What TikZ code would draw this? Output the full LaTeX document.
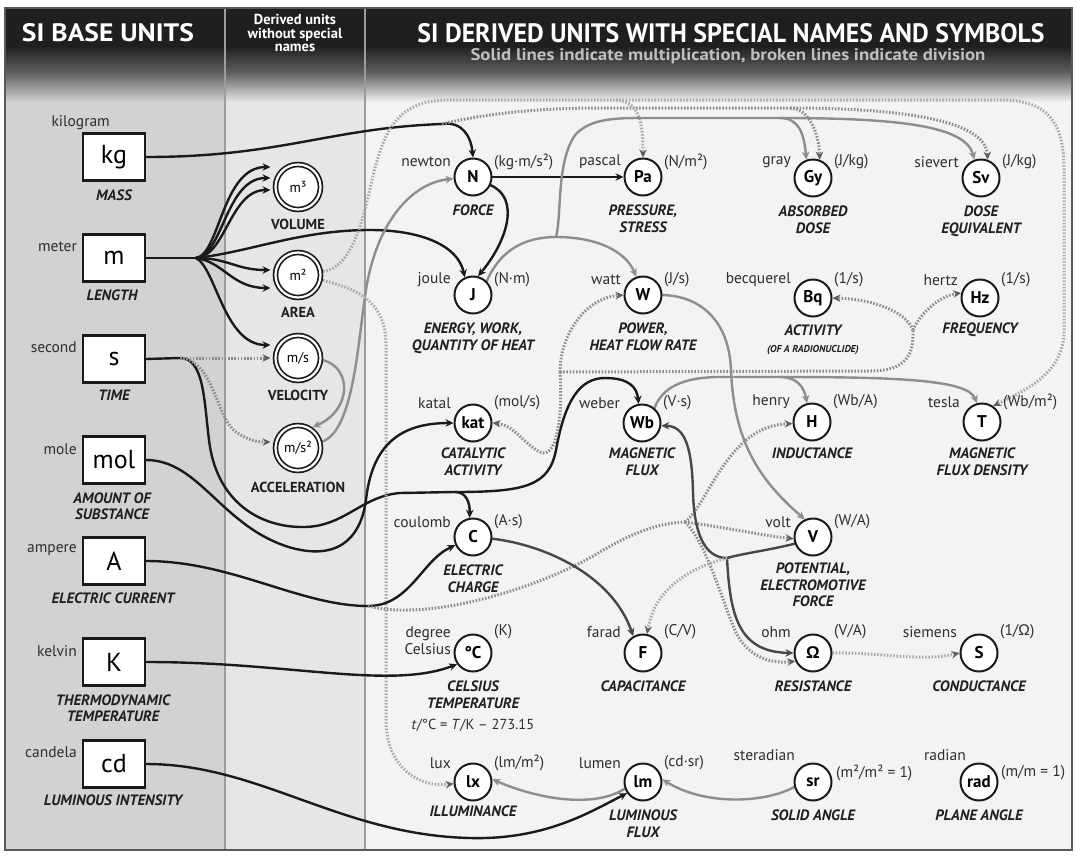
\documentclass[tikz,border=0pt]{standalone}
\usepackage{fontspec}
\usepackage{graphicx}
\setmainfont{PT Sans}
\newfontfamily\hfont[FakeStretch=0.86]{PT Sans}
\newfontfamily\gfont{Liberation Sans}
\usetikzlibrary{arrows.meta}
\newcommand\fsz[2]{\fontsize{#1}{#2}\selectfont}
\definecolor{panelL}{HTML}{D2D2D2}
\definecolor{panelM}{HTML}{E6E6E6}
\definecolor{panelR}{HTML}{F3F3F3}
\definecolor{hdark}{HTML}{1F1F1F}
\definecolor{hmid}{HTML}{5E5E5E}
\definecolor{inkc}{HTML}{1A1A1A}
\definecolor{greyline}{HTML}{8E8E8E}
\definecolor{dotdark}{HTML}{8A8A8A}
\definecolor{dotlight}{HTML}{A8A8A8}
\definecolor{tipgrey}{HTML}{5E5E5E}
\definecolor{sepgrey}{HTML}{9C9C9C}
\pgfdeclarelayer{panel}
\pgfdeclarelayer{wires}
\pgfsetlayers{panel,wires,main}
% unit circle with its name (left) and its definition (right)
\newcommand\unitcirc[7]{%
  \node[unitc] (#1) at (#2,#3) {#4};
  \node[nm, anchor=east] (#1-name) at (#2-22,#3-#7) {#5};
  \node[nmu, anchor=west] (#1-unit) at (#2+21,#3-#7) {#6};}
\begin{document}
\begin{tikzpicture}[x=1pt,y=-1pt,
  basebox/.style={draw=inkc, line width=2.2pt, fill=white, minimum width=62pt, minimum height=47pt, inner sep=0pt, font=\fsz{26}{26}},
  dblc/.style={circle, draw=inkc, line width=1.7pt, double=white, double distance=2.2pt, fill=white, minimum size=45pt, inner sep=0pt, outer sep=3pt, font=\fsz{14}{14}},
  unitc/.style={circle, draw=inkc, line width=2pt, fill=white, minimum size=37pt, inner sep=0pt, font=\bfseries\fsz{17}{17}},
  nm/.style={inner sep=0pt, text=black!82, font=\fsz{15.5}{17}, align=right},
  nmu/.style={inner sep=0pt, text=black!82, font=\fsz{15.5}{17}, align=left},
  desc/.style={inner sep=0pt, text=black!88, font=\bfseries\itshape\fsz{15}{16.5}, align=center},
  dlab/.style={inner sep=0pt, text=black!88, font=\bfseries\fsz{14.5}{15}},
  hd/.style={inner sep=0pt, text=white, font=\hfont\bfseries},
  wire/.style={line width=2.4pt, line cap=round},
  blkl/.style={wire, draw=inkc},
  blk/.style={blkl, -{Stealth[length=8pt,width=7.5pt]}},
  darkl/.style={wire, draw=black!72},
  darkw/.style={darkl, -{Stealth[length=8pt,width=7.5pt]}},
  gryl/.style={wire, draw=greyline},
  gry/.style={gryl, -{Stealth[length=8pt,width=7.5pt]}},
  dotw/.style={draw=dotdark, line width=3pt, dash pattern=on 1.5pt off 1.7pt},
  dotl/.style={dotw, draw=dotlight},
  tipd/.style={-{Stealth[length=8pt,width=7.5pt,color=tipgrey]}}
]
\useasboundingbox (0,0) rectangle (1077,855);

% ---------- panels and header ----------
\begin{pgfonlayer}{panel}
  \fill[white] (0,0) rectangle (1077,855);
  \fill[panelL] (5,8) rectangle (225,850);
  \fill[panelM] (225,8) rectangle (365,850);
  \fill[panelR] (365,8) rectangle (1072,850);
  \fill[hdark] (5,8) rectangle (1072,46);
  \shade[top color=hdark, bottom color=hmid] (5,46) rectangle (1072,72);
  \shade[top color=hmid, bottom color=panelL] (5,72) rectangle (225,102);
  \shade[top color=hmid, bottom color=panelM] (225,72) rectangle (365,102);
  \shade[top color=hmid, bottom color=panelR] (365,72) rectangle (1072,102);
  \draw[sepgrey, line width=1.5pt] (225,8) -- (225,850);
  \draw[sepgrey, line width=1.5pt] (365,8) -- (365,850);
  \draw[black!65, line width=2pt] (5,8) rectangle (1072,850);
\end{pgfonlayer}

\node[hd] (hbase) at (108,33) {\resizebox{172pt}{18pt}{SI BASE UNITS}};
\node[inner sep=0pt, text=white, align=center, font=\bfseries\fsz{14.5}{13.5}] (hderived) at (295,33) {Derived units\\without special\\names};
\node[hd] (htitle) at (731,33) {\resizebox{627pt}{19pt}{SI DERIVED UNITS WITH SPECIAL NAMES AND SYMBOLS}};
\node[inner sep=0pt, text=black!25, font=\bfseries] (hsub) at (728,56) {\resizebox{515pt}{12pt}{Solid lines indicate multiplication, broken lines indicate division}};

% ---------- SI base units ----------
\node[basebox] (kg) at (114,157) {kg};
\node[basebox] (m) at (114,258) {m};
\node[basebox] (s) at (114,359) {s};
\node[basebox] (mol) at (114,460) {mol};
\node[basebox] (A) at (114,561) {A};
\node[basebox] (K) at (114,662) {K};
\node[basebox] (cd) at (114,764) {cd};

\node[nm, anchor=east] (kg-name) at (110,123) {kilogram};
\node[nm, anchor=east] (m-name) at (77,247) {meter};
\node[nm, anchor=east] (s-name) at (77,347) {second};
\node[nm, anchor=east] (mol-name) at (77,449) {mole};
\node[nm, anchor=east] (A-name) at (77,550) {ampere};
\node[nm, anchor=east] (K-name) at (77,651) {kelvin};
\node[nm, anchor=east] (cd-name) at (77,752) {candela};

\node[desc] (kg-d) at (114,195) {MASS};
\node[desc] (m-d) at (112,295) {LENGTH};
\node[desc] (s-d) at (114,395) {TIME};
\node[desc] (mol-d) at (112,506) {AMOUNT OF\\SUBSTANCE};
\node[desc] (A-d) at (113,598) {ELECTRIC CURRENT};
\node[desc] (K-d) at (113,708) {THERMODYNAMIC\\TEMPERATURE};
\node[desc] (cd-d) at (113,800) {LUMINOUS INTENSITY};

% ---------- derived units without special names ----------
\node[dblc] (vol) at (298,187) {m³};
\node[dblc] (area) at (298,275) {m²};
\node[dblc] (vel) at (298,358) {m/s};
\node[dblc] (acc) at (298,448) {m/s²};
\node[dlab] (vol-d) at (298,224) {VOLUME};
\node[dlab] (area-d) at (298,312) {AREA};
\node[dlab] (vel-d) at (298,395) {VELOCITY};
\node[dlab] (acc-d) at (298,487) {ACCELERATION};

% ---------- derived units with special names ----------
\unitcirc{N}{473}{177}{N}{newton}{(kg·m/s²)}{15}
\unitcirc{Pa}{643}{177}{Pa}{pascal}{(N/m²)}{15}
\unitcirc{Gy}{813}{178}{Gy}{gray}{(J/kg)}{16}
\unitcirc{Sv}{981}{178}{Sv}{sievert}{(J/kg)}{16}
\unitcirc{J}{473}{295}{J}{joule}{(N·m)}{15}
\unitcirc{W}{643}{295}{W}{watt}{(J/s)}{15}
\unitcirc{Bq}{813}{298}{Bq}{becquerel}{(1/s)}{18}
\unitcirc{Hz}{980}{298}{Hz}{hertz}{(1/s)}{18}
\unitcirc{kat}{473}{423}{kat}{katal}{(mol/s)}{20}
\unitcirc{Wb}{642}{423}{Wb}{weber}{(V·s)}{20}
\unitcirc{H}{812}{422}{H}{henry}{(Wb/A)}{20}
\unitcirc{T}{982}{422}{T}{tesla}{(Wb/m²)}{20}
\unitcirc{C}{473}{537}{C}{coulomb}{(A·s)}{15}
\unitcirc{V}{813}{537}{V}{volt}{(W/A)}{15}
\unitcirc{F}{643}{653}{F}{farad}{(C/V)}{21}
\unitcirc{Ohm}{813}{653}{{\gfont Ω}}{ohm}{(V/A)}{21}
\unitcirc{S}{979}{653}{S}{siemens}{(1/{\gfont Ω})}{21}
\unitcirc{lx}{473}{782}{lx}{lux}{(lm/m²)}{19}
\unitcirc{lm}{643}{782}{lm}{lumen}{(cd·sr)}{19}

\node[unitc] (degC) at (473,653) {°C};
\node[nm, anchor=east] (degC-name) at (451,641) {degree\\Celsius};
\node[nmu, anchor=west] (degC-unit) at (494,632) {(K)};
\node[unitc] (sr) at (813,782) {sr};
\node[nm, anchor=east] (sr-name) at (795,755) {steradian};
\node[nmu, anchor=west] (sr-unit) at (836,773) {(m²/m² = 1)};
\node[unitc] (rad) at (979,782) {rad};
\node[nm, anchor=east] (rad-name) at (966,755) {radian};
\node[nmu, anchor=west] (rad-unit) at (1001,773) {(m/m = 1)};

\node[desc, anchor=north] (N-d) at (473,205) {FORCE};
\node[desc, anchor=north] (Pa-d) at (643,205) {PRESSURE,\\STRESS};
\node[desc, anchor=north] (Gy-d) at (813,206) {ABSORBED\\DOSE};
\node[desc, anchor=north] (Sv-d) at (981,206) {DOSE\\EQUIVALENT};
\node[desc, anchor=north] (J-d) at (473,323) {ENERGY, WORK,\\QUANTITY OF HEAT};
\node[desc, anchor=north] (W-d) at (643,323) {POWER,\\HEAT FLOW RATE};
\node[desc, anchor=north] (Bq-d) at (813,325) {ACTIVITY\\{\fsz{10}{11}(OF A RADIONUCLIDE)}};
\node[desc, anchor=north] (Hz-d) at (980,323) {FREQUENCY};
\node[desc, anchor=north] (kat-d) at (473,448) {CATALYTIC\\ACTIVITY};
\node[desc, anchor=north] (Wb-d) at (642,448) {MAGNETIC\\FLUX};
\node[desc, anchor=north] (H-d) at (812,448) {INDUCTANCE};
\node[desc, anchor=north] (T-d) at (982,448) {MAGNETIC\\FLUX DENSITY};
\node[desc, anchor=north] (C-d) at (473,565) {ELECTRIC\\CHARGE};
\node[desc, anchor=north] (V-d) at (813,563) {POTENTIAL,\\ELECTROMOTIVE\\FORCE};
\node[desc, anchor=north] (degC-d) at (473,681) {CELSIUS\\TEMPERATURE};
\node[inner sep=0pt, text=black!82, font=\fsz{14.5}{16}] (degC-rel) at (473,725) {\textit{t}/°C = \textit{T}/K – 273.15};
\node[desc, anchor=north] (F-d) at (643,681) {CAPACITANCE};
\node[desc, anchor=north] (Ohm-d) at (813,681) {RESISTANCE};
\node[desc, anchor=north] (S-d) at (979,681) {CONDUCTANCE};
\node[desc, anchor=north] (lx-d) at (473,806) {ILLUMINANCE};
\node[desc, anchor=north] (lm-d) at (643,810) {LUMINOUS\\FLUX};
\node[desc, anchor=north] (sr-d) at (813,810) {SOLID ANGLE};
\node[desc, anchor=north] (rad-d) at (979,810) {PLANE ANGLE};

% ---------- junction points ----------
\coordinate (mfan) at (196,258);
\coordinate (sturn) at (180,358);
\coordinate (kgbend) at (442,124);
\coordinate (sjn) at (455,492);
\coordinate (adot) at (368,606);
\coordinate (ajn) at (685,522);
\coordinate (vjn) at (727,558);
\coordinate (jsp) at (556,237);
\coordinate (gjn) at (780,118);
\coordinate (dkg) at (790,108);
\coordinate (dtop) at (616,100);
\coordinate (sdot) at (560,372);
\coordinate (bjn) at (913,330);
\coordinate (wjn) at (780,377);

% ---------- connectors ----------
\begin{pgfonlayer}{wires}
% kilogram
\draw[blk] (kg.east) .. controls (280,157) and (330,128) .. (kgbend) .. controls (462,121) and (471,136) .. (N.north);
\draw[dotw] (kgbend) .. controls (480,115) and (530,108) .. (600,108) -- (dkg);
\draw[dotw,tipd] (dkg) .. controls (808,108) and (819,132) .. (Gy.70);
\draw[dotw,tipd] (dkg) .. controls (900,108) and (986,120) .. (Sv.70);
% meter
\draw[blkl] (m.east) -- (mfan);
\draw[blk] (mfan) .. controls (220,254) and (222,167) .. ([xshift=-2pt,yshift=20pt]vol.west);
\draw[blk] (mfan) .. controls (223,255) and (226,178) .. ([xshift=-2pt,yshift=9pt]vol.west);
\draw[blk] (mfan) .. controls (226,256) and (230,190) .. ([xshift=-2pt,yshift=-3pt]vol.west);
\draw[blk] (mfan) .. controls (228,258) and (236,270) .. ([xshift=-2pt,yshift=5pt]area.west);
\draw[blk] (mfan) .. controls (224,262) and (232,288) .. ([xshift=-2pt,yshift=-13pt]area.west);
\draw[blk] (mfan) .. controls (216,268) and (224,345) .. ([xshift=-2pt,yshift=13pt]vel.west);
\draw[blk] (mfan) .. controls (250,252) and (300,230) .. (370,230) .. controls (420,230) and (458,245) .. (J.115);
% second
\draw[blkl] (s.east) -- (sturn);
\draw[blkl] (sturn) .. controls (204,358) and (204,400) .. (209,440) .. controls (216,500) and (258,528) .. (305,527) .. controls (345,526) and (362,496) .. (400,493) -- (sjn);
\draw[blk] (sjn) .. controls (466,492) and (470,502) .. (C.100);
\draw[blk] (sjn) .. controls (525,492) and (549,486) .. (556,450) .. controls (565,400) and (580,378) .. (605,378) .. controls (630,378) and (637,388) .. (Wb.100);
\draw[dotw,tipd] (sturn) -- ([xshift=-2pt]vel.west);
\draw[dotw,tipd] (sturn) .. controls (214,360) and (216,418) .. (236,432) .. controls (248,440) and (256,442) .. ([xshift=-2pt,yshift=6pt]acc.west);
% velocity, acceleration
\draw[gry] (vel.-5) .. controls (352,368) and (352,410) .. (acc.55);
\draw[gry] (acc.15) .. controls (354,430) and (358,340) .. (366,290) .. controls (376,225) and (410,183) .. (N.185);
% area (division by square metre)
\draw[dotl] (area.8) .. controls (352,268) and (363,220) .. (372,180) .. controls (385,125) and (400,100) .. (450,100) -- (dtop);
\draw[dotl,tipd] (dtop) .. controls (638,102) and (643,118) .. (Pa.north);
\draw[dotl,tipd] (dtop) -- (1000,100) .. controls (1048,100) and (1064,122) .. (1064,170) -- (1064,330) .. controls (1064,372) and (1030,388) .. (T.55);
\draw[dotl,tipd] (area.-12) .. controls (352,288) and (386,298) .. (386,345) -- (386,720) .. controls (386,768) and (420,788) .. (lx.185);
% mole
\draw[blk] (mol.east) .. controls (200,460) and (222,528) .. (292,548) .. controls (345,562) and (362,530) .. (366,500) .. controls (372,445) and (400,423) .. (kat.west);
% ampere
\draw[blk] (A.east) .. controls (232,561) and (300,606) .. (adot) .. controls (410,606) and (422,560) .. (C.205);
\draw[dotw] (adot) .. controls (430,622) and (540,588) .. (600,552) .. controls (632,533) and (658,523) .. (ajn);
\draw[dotw,tipd] (ajn) .. controls (730,528) and (765,536) .. (V.185);
\draw[dotw,tipd] (ajn) .. controls (708,505) and (728,425) .. (H.185);
\draw[dotw,tipd] (ajn) .. controls (706,542) and (722,600) .. (734,628) .. controls (745,655) and (768,664) .. (Ohm.205);
% kelvin, candela
\draw[blk] (K.east) .. controls (290,662) and (390,690) .. (degC.215);
\draw[blk] (cd.east) .. controls (260,764) and (340,835) .. (470,838) .. controls (545,840) and (590,812) .. (lm.215);
% newton
\draw[blk] (N.east) -- (Pa.west);
\draw[blk] (N.-25) .. controls (520,198) and (508,240) .. (J.75);
% joule
\draw[gryl] (J.45) .. controls (500,250) and (525,237) .. (jsp);
\draw[gry] (jsp) .. controls (595,237) and (625,250) .. (W.110);
\draw[gryl] (jsp) .. controls (562,215) and (556,160) .. (576,134) .. controls (590,120) and (610,118) .. (640,118) -- (gjn);
\draw[gry] (gjn) .. controls (798,118) and (804,132) .. (Gy.110);
\draw[gry] (gjn) .. controls (900,118) and (966,126) .. (Sv.110);
% watt
\draw[gry] (W.east) .. controls (700,296) and (729,320) .. (731,370) .. controls (734,445) and (762,482) .. (V.115);
% weber
\draw[gryl] (Wb.50) .. controls (662,388) and (682,377) .. (720,377) -- (wjn);
\draw[gry] (wjn) .. controls (796,377) and (804,386) .. (H.105);
\draw[gry] (wjn) .. controls (900,377) and (968,380) .. (T.105);
% volt
\draw[darkl] (V.200) .. controls (770,550) and (745,553) .. (vjn);
\draw[darkw] (vjn) .. controls (703,558) and (694,530) .. (693,492) .. controls (692,450) and (686,426) .. (Wb.-8);
\draw[darkw] (vjn) .. controls (730,615) and (738,652) .. (Ohm.180);
\draw[dotl,tipd] (vjn) .. controls (690,568) and (655,588) .. (F.78);
% coulomb
\draw[darkw] (C.-5) .. controls (545,545) and (612,575) .. (F.120);
% division by second
\draw[dotw,tipd] (sdot) .. controls (560,335) and (585,298) .. (W.west);
\draw[dotw,tipd] (sdot) .. controls (563,420) and (556,460) .. (540,452) .. controls (525,445) and (514,425) .. (kat.east);
\draw[dotw] (sdot) -- (870,371) .. controls (906,371) and (914,355) .. (bjn);
\draw[dotw,tipd] (bjn) .. controls (905,310) and (870,299) .. (Bq.east);
\draw[dotw,tipd] (bjn) .. controls (921,312) and (940,296) .. (Hz.165);
% ohm
\draw[dotl,tipd] (Ohm.east) .. controls (880,652) and (920,662) .. (S.west);
% lumen, steradian
\draw[gry] (lm.200) .. controls (595,808) and (540,800) .. (lx.8);
\draw[gry] (sr.195) .. controls (765,803) and (705,806) .. (lm.8);
\end{pgfonlayer}
\end{tikzpicture}
\end{document}
